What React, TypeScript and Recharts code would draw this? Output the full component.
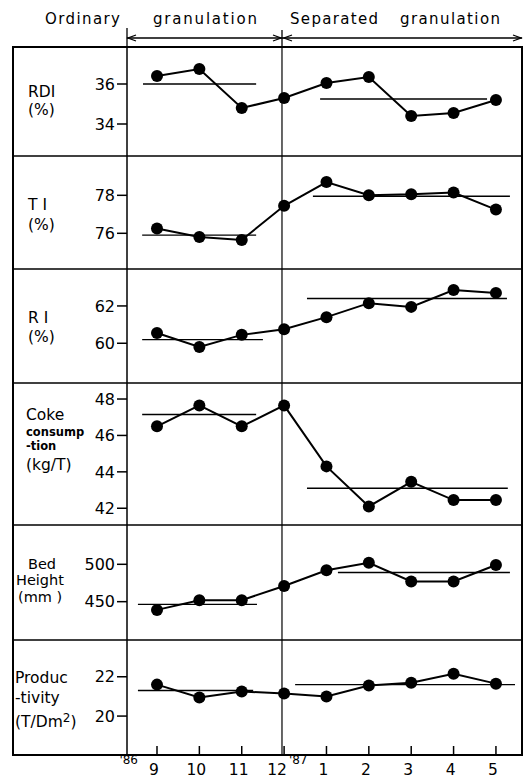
import React from 'react';
import { LineChart, Line, XAxis, YAxis, ReferenceLine } from 'recharts';

const months = ['9', '10', '11', '12', '1', '2', '3', '4', '5'];
const yearMarks = ["'86", '', '', '', "'87", '', '', '', ''];

const rdi = [36.4, 36.75, 34.8, 35.3, 36.05, 36.35, 34.4, 34.55, 35.2];
const ti = [76.25, 75.8, 75.65, 77.45, 78.7, 78.0, 78.05, 78.15, 77.25];
const ri = [60.55, 59.8, 60.45, 60.75, 61.4, 62.15, 61.95, 62.85, 62.7];
const coke = [46.5, 47.65, 46.5, 47.65, 44.3, 42.1, 43.45, 42.45, 42.45];
const bedHeight = [439, 452, 452, 471, 492, 502, 477, 477, 499];
const productivity = [21.6, 20.95, 21.25, 21.15, 21.0, 21.55, 21.7, 22.15, 21.65];

// period averages: [ordinary, separated]
const rdiAvg = [36.0, 35.25];
const tiAvg = [75.9, 77.95];
const riAvg = [60.2, 62.4];
const cokeAvg = [47.15, 43.1];
const bedAvg = [446.5, 489];
const prodAvg = [21.3, 21.6];

// where each average line starts/ends, in month-index units
const rdiSpan = [-0.33, 2.34, 3.85, 7.79];
const tiSpan = [-0.35, 2.34, 3.68, 8.33];
const riSpan = [-0.35, 2.5, 3.54, 8.26];
const cokeSpan = [-0.35, 2.34, 3.54, 8.28];
const bedSpan = [-0.45, 2.36, 4.27, 8.33];
const prodSpan = [-0.45, 2.27, 3.26, 8.45];

const X_DOMAIN: [number, number] = [-0.708, 8.615];
const DIVIDER = 2.95;
const FONT = '"DejaVu Sans", sans-serif';

const panels = [
  { values: rdi, avg: rdiAvg, span: rdiSpan, domain: [32.4, 37.85], ticks: [34, 36], top: 47, height: 109 },
  { values: ti, avg: tiAvg, span: tiSpan, domain: [74.12, 80.07], ticks: [76, 78], top: 156, height: 113 },
  { values: ri, avg: riAvg, span: riSpan, domain: [57.87, 63.98], ticks: [60, 62], top: 269, height: 114 },
  { values: coke, avg: cokeAvg, span: cokeSpan, domain: [41.08, 48.88], ticks: [42, 44, 46, 48], top: 383, height: 142 },
  { values: bedHeight, avg: bedAvg, span: bedSpan, domain: [398.7, 552.6], ticks: [450, 500], top: 525, height: 115 },
  { values: productivity, avg: prodAvg, span: prodSpan, domain: [18.02, 23.87], ticks: [20, 22], top: 640, height: 115 },
];

const sideLabels = [
  [{ t: 'RDI', x: 28, y: 97 }, { t: '(%)', x: 28, y: 115 }],
  [{ t: 'T I', x: 28, y: 210 }, { t: '(%)', x: 28, y: 230 }],
  [{ t: 'R I', x: 28, y: 323 }, { t: '(%)', x: 28, y: 342 }],
  [
    { t: 'Coke', x: 26, y: 420 },
    { t: 'consump', x: 26, y: 436, small: true },
    { t: '-tion', x: 26, y: 450, small: true },
    { t: '(kg/T)', x: 26, y: 470 },
  ],
  [
    { t: 'Bed', x: 28, y: 569, size: 14.5 },
    { t: 'Height', x: 16, y: 585, size: 14.5 },
    { t: '(mm )', x: 18, y: 602, size: 14.5 },
  ],
  [{ t: 'Produc', x: 15, y: 683 }, { t: '-tivity', x: 15, y: 703 }, { t: '(T/Dm', x: 15, y: 727, sup: '2' }],
];

const BottomTick = (props: any) => {
  const { x, y, payload } = props;
  const i = payload.value as number;
  // the "12" sits a little left so the raised '87 fits beside it
  const dx = i === 3 ? -7 : -3;
  return (
    <g>
      <line x1={x} x2={x} y1={y} y2={y - 9} stroke="#000" strokeWidth={1.5} />
      <text x={x + dx} y={y + 20} textAnchor="middle" fontSize={15.5} fontFamily={FONT} fill="#000">
        {months[i]}
      </text>
      {yearMarks[i] && (
        <text x={x - 19} y={y + 9} textAnchor="end" fontSize={12} fontFamily={FONT} fill="#000">
          {yearMarks[i]}
        </text>
      )}
    </g>
  );
};

function Panel({ p, last }: { p: (typeof panels)[number]; last: boolean }) {
  const data = p.values.map((v, i) => ({ i, v }));
  const h = p.height + (last ? 23 : 0);
  return (
    <div style={{ position: 'absolute', left: 0, top: p.top, width: 526, height: h }}>
      <LineChart width={526} height={h} data={data} margin={{ top: 0, right: 4, bottom: 0, left: 0 }}>
        <XAxis
          type="number"
          dataKey="i"
          domain={X_DOMAIN}
          ticks={months.map((_, i) => i)}
          allowDataOverflow
          hide={!last}
          height={23}
          axisLine={false}
          tickLine={false}
          tickSize={0}
          tickMargin={0}
          tick={<BottomTick />}
          interval={0}
        />
        <YAxis
          type="number"
          domain={p.domain as [number, number]}
          ticks={p.ticks}
          allowDataOverflow
          width={127}
          axisLine={{ stroke: '#000', strokeWidth: 1.5 }}
          tickLine={{ stroke: '#000', strokeWidth: 1.5 }}
          tickSize={10}
          tickMargin={2}
          tick={{ fill: '#000', fontSize: 16, fontFamily: FONT }}
        />
        <ReferenceLine x={DIVIDER} stroke="#000" strokeWidth={1.2} />
        <ReferenceLine
          segment={[{ x: p.span[0], y: p.avg[0] }, { x: p.span[1], y: p.avg[0] }]}
          stroke="#000"
          strokeWidth={1.3}
        />
        <ReferenceLine
          segment={[{ x: p.span[2], y: p.avg[1] }, { x: p.span[3], y: p.avg[1] }]}
          stroke="#000"
          strokeWidth={1.3}
        />
        <Line
          type="linear"
          dataKey="v"
          stroke="#000"
          strokeWidth={2}
          dot={{ r: 6, fill: '#000', stroke: '#000', strokeWidth: 0 }}
          activeDot={false}
          isAnimationActive={false}
        />
      </LineChart>
    </div>
  );
}

export default function App() {
  const bottom = 755;
  return (
    <div style={{ position: 'absolute', left: 0, top: 0, width: 526, height: 778, background: '#fff', fontFamily: FONT }}>
      {panels.map((p, k) => (
        <Panel key={k} p={p} last={k === panels.length - 1} />
      ))}
      <svg width={526} height={778} style={{ position: 'absolute', left: 0, top: 0, pointerEvents: 'none' }}>
        <g fontFamily={FONT} fill="#000" fontSize={15}>
          <text x={45} y={24} textLength={75}>Ordinary</text>
          <text x={153} y={24} textLength={104}>granulation</text>
          <text x={290} y={24} textLength={88}>Separated</text>
          <text x={400} y={24} textLength={100}>granulation</text>
        </g>
        <g stroke="#000" fill="none" strokeWidth={1.3}>
          <line x1={127} x2={127} y1={28} y2={47} />
          <line x1={282} x2={282} y1={30} y2={47} />
          <line x1={127} x2={282} y1={38} y2={38} />
          <line x1={282} x2={522} y1={38} y2={38} />
          <polyline points="136,35 128,38 136,41" />
          <polyline points="273,35 281,38 273,41" />
          <polyline points="292,35 284,38 292,41" />
          <polyline points="513,35 521,38 513,41" />
        </g>
        <g stroke="#000" fill="none">
          <rect x={13} y={47} width={509} height={bottom - 47} strokeWidth={2} />
          {panels.slice(1).map((p, k) => (
            <line key={k} x1={13} x2={522} y1={p.top} y2={p.top} strokeWidth={1.6} />
          ))}
        </g>
        <g fontFamily={FONT} fill="#000">
          {sideLabels.map((lines, k) =>
            lines.map((l: any, j) => (
              <text
                key={`${k}-${j}`}
                x={l.x}
                y={l.y}
                fontSize={l.small ? 11.5 : l.size ?? 15.5}
                fontWeight={l.small ? 'bold' : 'normal'}
              >
                {l.t}
                {l.sup && (
                  <>
                    <tspan dy={-5} fontSize={12}>{l.sup}</tspan>
                    <tspan dy={5}>)</tspan>
                  </>
                )}
              </text>
            ))
          )}
        </g>
      </svg>
    </div>
  );
}
